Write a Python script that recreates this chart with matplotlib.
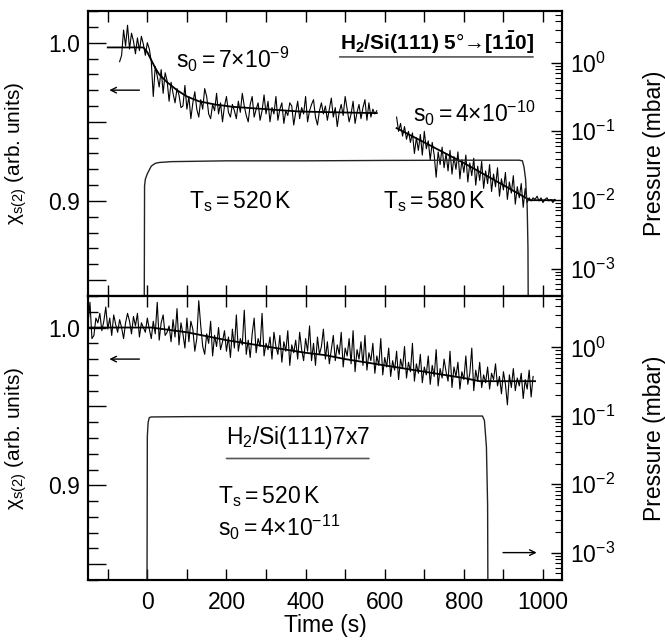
import numpy as np
import matplotlib
matplotlib.use("Agg")
from matplotlib import pyplot as plt
from matplotlib.ticker import MultipleLocator, LogLocator, NullFormatter, FuncFormatter

plt.rcParams['font.family'] = ['Liberation Sans', 'DejaVu Sans']
plt.rcParams['mathtext.fontset'] = 'custom'
plt.rcParams['mathtext.rm'] = 'Liberation Sans'
plt.rcParams['mathtext.it'] = 'Liberation Sans:italic'
plt.rcParams['mathtext.bf'] = 'Liberation Sans:bold'
plt.rcParams['mathtext.default'] = 'regular'

# ---- top panel: H2/Si(111) 5deg miscut ----
# SHG signal, first dose (Ts = 520 K), sampled every 5 s from -70 s to 580 s
chi_top_a = [0.988, 0.992, 1.008, 0.998, 1.011, 0.996, 1.006, 1.001, 0.993, 1.003,
             0.995, 1.004, 0.999, 0.992, 1.000, 0.996, 0.988, 0.966, 0.985, 0.979,
             0.972, 0.983, 0.968, 0.981, 0.976, 0.963, 0.975, 0.968, 0.962, 0.971,
             0.967, 0.959, 0.960, 0.973, 0.958, 0.966, 0.952, 0.962, 0.969, 0.958,
             0.953, 0.964, 0.958, 0.971, 0.966, 0.955, 0.952, 0.961, 0.957, 0.968,
             0.955, 0.962, 0.950, 0.960, 0.966, 0.956, 0.953, 0.961, 0.957, 0.952,
             0.963, 0.956, 0.968, 0.960, 0.954, 0.950, 0.961, 0.966, 0.953, 0.958,
             0.962, 0.951, 0.957, 0.967, 0.955, 0.963, 0.950, 0.959, 0.955, 0.966,
             0.951, 0.958, 0.962, 0.949, 0.957, 0.954, 0.962, 0.960, 0.948, 0.956,
             0.963, 0.952, 0.959, 0.955, 0.966, 0.950, 0.957, 0.961, 0.964, 0.953,
             0.948, 0.957, 0.962, 0.955, 0.960, 0.951, 0.958, 0.965, 0.953, 0.959,
             0.947, 0.956, 0.961, 0.954, 0.966, 0.958, 0.950, 0.955, 0.963, 0.949,
             0.956, 0.961, 0.952, 0.959, 0.964, 0.951, 0.962, 0.953, 0.958, 0.955,
             0.957]
t_top_a = np.linspace(-70, 580, len(chi_top_a))
fit_top_a_t = [-100, -10, 0, 10, 20, 30, 50, 75, 100, 130, 170, 215, 300, 385, 480, 580]
fit_top_a_v = [0.997, 0.997, 0.994, 0.989, 0.984, 0.980, 0.975, 0.970, 0.966, 0.963,
               0.961, 0.9595, 0.958, 0.9565, 0.956, 0.9555]

# second dose (Ts = 580 K), every 5 s from 630 s to 1030 s
chi_top_b = [0.953, 0.944, 0.949, 0.941, 0.947, 0.939, 0.944, 0.937, 0.943, 0.930,
             0.940, 0.932, 0.942, 0.929, 0.944, 0.933, 0.938, 0.926, 0.937, 0.929,
             0.915, 0.931, 0.923, 0.934, 0.921, 0.930, 0.919, 0.932, 0.917, 0.928,
             0.920, 0.931, 0.914, 0.926, 0.918, 0.929, 0.912, 0.924, 0.916, 0.927,
             0.910, 0.922, 0.913, 0.925, 0.908, 0.919, 0.911, 0.923, 0.906, 0.917,
             0.909, 0.921, 0.903, 0.914, 0.907, 0.918, 0.901, 0.912, 0.905, 0.916,
             0.898, 0.909, 0.902, 0.911, 0.896, 0.908, 0.899, 0.902,
             0.900, 0.902, 0.901, 0.903, 0.900, 0.902, 0.899, 0.901, 0.902, 0.900,
             0.901, 0.899, 0.901]
t_top_b = np.linspace(630, 1030, len(chi_top_b))
fit_top_b_t = [630, 700, 800, 900, 967, 1030]
fit_top_b_v = [0.946, 0.937, 0.924, 0.910, 0.9005, 0.9005]

p_top_t = [-8, -7, -5, 0, 10, 20, 30, 60, 200, 400, 600, 800, 940, 948, 952, 956,
           958, 960, 962, 963]
p_top_v = [1e-4, 0.016, 0.020, 0.024, 0.031, 0.034, 0.035, 0.036, 0.037, 0.037,
           0.0375, 0.0378, 0.0378, 0.037, 0.030, 0.020, 0.012, 0.008, 0.002, 1e-4]

# ---- bottom panel: H2/Si(111)7x7, every 5 s from -150 s to 975 s ----
chi_bot = [1.002, 1.016, 0.993, 0.995, 1.006, 1.003, 1.009, 0.998, 1.004, 1.013, 0.999,
           1.006, 0.995, 1.008, 1.002, 0.997, 1.005, 1.000, 0.993, 1.003, 1.009,
           1.004, 0.996, 1.007, 1.001, 1.009, 0.994, 1.003, 1.000, 0.997, 1.006,
           0.999, 0.993, 1.004, 0.996, 1.016, 0.992, 1.003, 1.008, 0.995, 0.997,
           1.001, 0.991, 1.005, 0.994, 1.012, 0.989, 1.003, 0.996, 0.987, 1.006,
           0.991, 1.004, 0.999, 0.985, 0.993, 1.017, 1.001, 0.988, 0.983, 0.996,
           0.990, 1.004, 0.982, 0.995, 0.988, 1.000, 0.986, 0.991, 0.998, 0.985,
           0.994, 0.981, 0.999, 0.987, 1.008, 0.985, 0.993, 0.989, 1.011, 0.983,
           0.992, 0.981, 0.996, 1.006, 0.984, 0.993, 0.988, 1.009, 0.982, 0.990,
           0.986, 0.994, 0.980, 0.997, 0.988, 0.983, 0.995, 0.978, 0.991, 0.985,
           0.998, 0.976, 0.989, 0.984, 0.992, 0.980, 0.997, 0.986, 0.979, 0.993,
           0.985, 1.001, 0.979, 0.990, 0.976, 0.994, 0.983, 0.988, 0.999, 0.980,
           0.991, 0.977, 0.986, 0.995, 0.979, 0.989, 0.983, 0.997, 0.975, 0.987,
           0.982, 0.993, 0.977, 0.998, 0.972, 0.986, 0.980, 0.991, 0.976, 0.995,
           0.973, 0.984, 0.979, 0.990, 0.971, 0.982, 0.976, 0.993, 0.970, 0.981,
           0.975, 0.987, 0.969, 0.979, 0.973, 0.985, 0.967, 0.980, 0.974, 0.988,
           0.968, 0.978, 0.972, 0.990, 0.966, 0.977, 0.971, 0.983, 0.965, 0.975,
           0.970, 0.982, 0.964, 0.976, 0.969, 0.986, 0.963, 0.974, 0.968, 0.980,
           0.972, 0.966, 0.985, 0.962, 0.975, 0.969, 0.978, 0.961, 0.972, 0.967,
           0.982, 0.964, 0.971, 0.987, 0.960, 0.973, 0.966, 0.978, 0.962, 0.970,
           0.965, 0.975, 0.961, 0.971, 0.967, 0.977, 0.963, 0.969, 0.958, 0.972,
           0.964, 0.951, 0.970, 0.962, 0.974, 0.960, 0.968, 0.963, 0.971, 0.955,
           0.967, 0.961, 0.973, 0.956, 0.969]
t_bot = np.linspace(-150, 975, len(chi_bot))
fit_bot_t = [-150, 10, 100, 200, 300, 400, 450, 500, 600, 700, 800, 840, 980]
fit_bot_v = [1.0, 1.0, 0.997, 0.992, 0.988, 0.984, 0.9825, 0.980, 0.976, 0.972,
             0.968, 0.966, 0.966]

p_bot_t = [-1, 0, 2, 5, 10, 100, 400, 700, 847, 852, 857, 860, 861]
p_bot_v = [1e-4, 0.05, 0.080, 0.094, 0.096, 0.097, 0.098, 0.099, 0.099, 0.085,
           0.035, 0.005, 1e-4]

xlim = (-150, 1048)
ylim_chi = (0.84, 1.02)
ylim_p = (10 ** -3.4, 10 ** 0.75)

fig = plt.figure(figsize=(6.65, 6.44), dpi=100)
ax_top = fig.add_axes([0.1323, 0.5404, 0.7128, 0.4425])
ax_bot = fig.add_axes([0.1323, 0.0994, 0.7128, 0.441])

fs = 16.5


def style_axes(ax):
    ax.set_xlim(*xlim)
    ax.set_ylim(*ylim_chi)
    ax.xaxis.set_major_locator(MultipleLocator(200))
    ax.xaxis.set_minor_locator(MultipleLocator(100))
    ax.yaxis.set_major_locator(MultipleLocator(0.05))
    ax.yaxis.set_minor_locator(MultipleLocator(0.01))
    ax.yaxis.set_major_formatter(FuncFormatter(
        lambda v, p: f"{v:.1f}" if abs(round(v * 10) - v * 10) < 1e-6 else ""))
    ax.tick_params(axis='x', which='both', direction='in', top=True, bottom=True,
                   length=8, width=1, labelsize=fs, pad=8)
    ax.tick_params(axis='y', which='major', direction='in', right=False,
                   length=13, width=1, labelsize=fs, pad=6)
    ax.tick_params(axis='y', which='minor', direction='in', right=False,
                   length=7, width=1)
    for s in ax.spines.values():
        s.set_linewidth(1.5)
    ax.set_ylabel(r"$\chi_{s(2)}$ (arb. units)", fontsize=15)
    ax.yaxis.set_label_coords(-0.125, 0.5)
    tw = ax.twinx()
    tw.set_yscale('log')
    tw.set_ylim(*ylim_p)
    tw.set_xlim(*xlim)
    tw.yaxis.set_major_locator(LogLocator(base=10, numticks=10))
    tw.yaxis.set_minor_locator(LogLocator(base=10, subs=np.arange(2, 10), numticks=20))
    tw.yaxis.set_minor_formatter(NullFormatter())
    tw.tick_params(axis='y', which='major', direction='in', length=8, width=1,
                   labelsize=fs, pad=6)
    tw.tick_params(axis='y', which='minor', direction='in', length=5, width=0.8)
    tw.set_ylabel("Pressure (mbar)", fontsize=fs)
    tw.yaxis.set_label_coords(1.17, 0.5)
    for s in tw.spines.values():
        s.set_linewidth(1.5)
    return tw


tw_top = style_axes(ax_top)
tw_bot = style_axes(ax_bot)
ax_top.tick_params(axis='x', labelbottom=False)
ax_bot.set_xlabel("Time (s)", fontsize=fs, labelpad=0)

# top panel data
ax_top.plot(t_top_a, chi_top_a, color='k', lw=0.8)
ax_top.plot(fit_top_a_t, fit_top_a_v, color='k', lw=1.3)
ax_top.plot(t_top_b, chi_top_b, color='k', lw=0.8)
ax_top.plot(fit_top_b_t, fit_top_b_v, color='k', lw=1.3)
tw_top.plot(p_top_t, p_top_v, color='#222222', lw=1.0)

# bottom panel data
ax_bot.plot(t_bot, chi_bot, color='k', lw=0.8)
ax_bot.plot(fit_bot_t, fit_bot_v, color='k', lw=1.3)
tw_bot.plot(p_bot_t, p_bot_v, color='#222222', lw=1.0)

arrow = dict(arrowstyle='->', color='k', lw=1.0, shrinkA=0, shrinkB=0,
             mutation_scale=10)

# top panel annotations
ax_top.text(73, 0.984, r"$s_0 = 7{\times}10^{-9}$", fontsize=fs)
ax_top.text(106, 0.8956, r"$T_s = 520\,K$", fontsize=fs)
ax_top.text(595, 0.8956, r"$T_s = 580\,K$", fontsize=fs)
ax_top.text(671, 0.950, r"$s_0 = 4{\times}10^{-10}$", fontsize=fs)
ax_top.text(486, 0.9956, r"$\mathbf{H_2/Si(111)\ 5}$°→$\mathbf{[1\bar{1}0]}$", fontsize=15)
ax_top.annotate('', xy=(975, 0.991), xytext=(486, 0.991),
                arrowprops=dict(arrowstyle='-', color='#555555', lw=1.2, shrinkA=0, shrinkB=0))
ax_top.annotate('', xy=(-96, 0.970), xytext=(-20, 0.970), arrowprops=arrow)

# bottom panel annotations
ax_bot.text(200, 0.926, r"$H_2$/Si(111)7x7", fontsize=fs)
ax_bot.annotate('', xy=(560, 0.917), xytext=(200, 0.917),
                arrowprops=dict(arrowstyle='-', color='#555555', lw=1.2, shrinkA=0, shrinkB=0))
ax_bot.text(178, 0.889, r"$T_s = 520\,K$", fontsize=fs)
ax_bot.text(178, 0.868, r"$s_0 = 4{\times}10^{-11}$", fontsize=fs)
ax_bot.annotate('', xy=(-96, 0.980), xytext=(-20, 0.980), arrowprops=arrow)
tw_bot.annotate('', xy=(984, 1e-3), xytext=(899, 1e-3), arrowprops=arrow)

fig.savefig("out.png", dpi=100)
